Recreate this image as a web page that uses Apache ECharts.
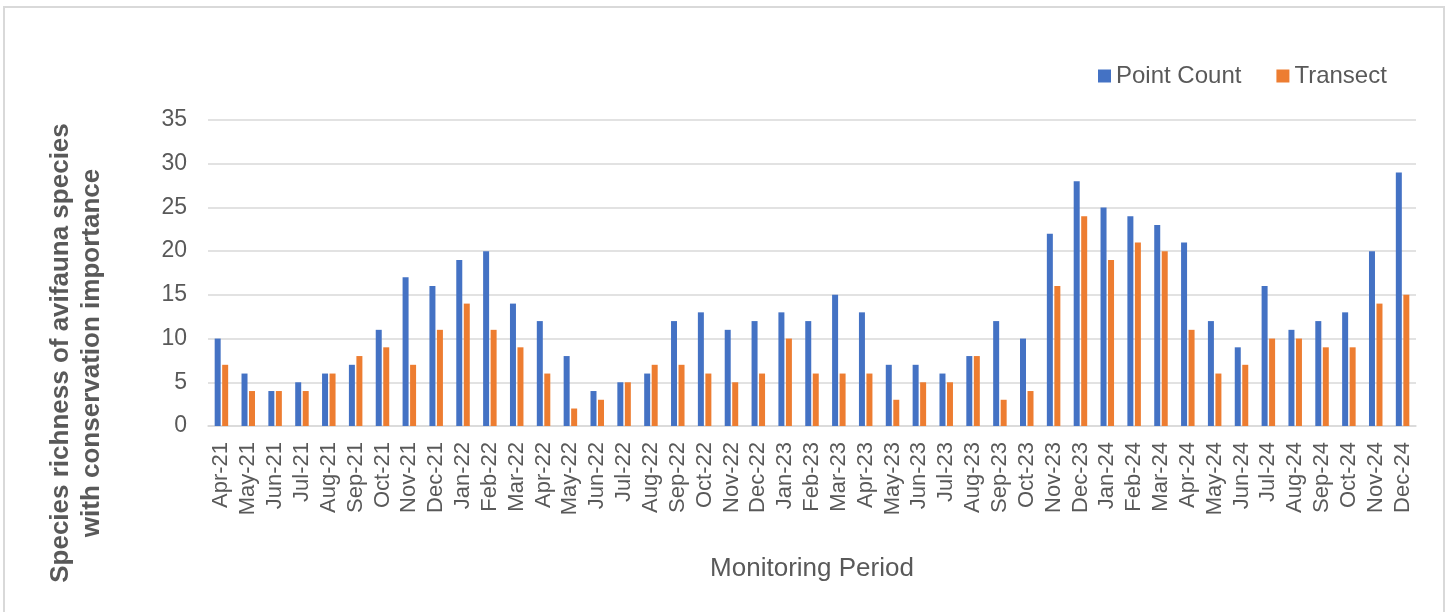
<!DOCTYPE html>
<html>
<head>
<meta charset="utf-8">
<script src="https://cdn.jsdelivr.net/npm/echarts@6/dist/echarts.min.js"></script>
<style>
  html, body { margin: 0; padding: 0; background: #fff; }
  #frame { position: absolute; left: 3px; top: 6px; width: 1442px; height: 640px; border: 2px solid #d9d9d9; box-sizing: border-box; }
  #chart { position: absolute; left: 0; top: 0; width: 1451px; height: 612px; }
</style>
</head>
<body>
<div id="frame"></div>
<div id="chart"></div>
<script>
// monitoring months
const months = [
  'Apr-21', 'May-21', 'Jun-21', 'Jul-21', 'Aug-21', 'Sep-21', 'Oct-21', 'Nov-21', 'Dec-21',
  'Jan-22', 'Feb-22', 'Mar-22', 'Apr-22', 'May-22', 'Jun-22', 'Jul-22', 'Aug-22', 'Sep-22', 'Oct-22', 'Nov-22', 'Dec-22',
  'Jan-23', 'Feb-23', 'Mar-23', 'Apr-23', 'May-23', 'Jun-23', 'Jul-23', 'Aug-23', 'Sep-23', 'Oct-23', 'Nov-23', 'Dec-23',
  'Jan-24', 'Feb-24', 'Mar-24', 'Apr-24', 'May-24', 'Jun-24', 'Jul-24', 'Aug-24', 'Sep-24', 'Oct-24', 'Nov-24', 'Dec-24'
]
const pointCount = [
  10, 6, 4, 5, 6, 7, 11, 17, 16,
  19, 20, 14, 12, 8, 4, 5, 6, 12, 13, 11, 12,
  13, 12, 15, 13, 7, 7, 6, 8, 12, 10, 22, 28,
  25, 24, 23, 21, 12, 9, 16, 11, 12, 13, 20, 29
]
const transect = [
  7, 4, 4, 4, 6, 8, 9, 7, 11,
  14, 11, 9, 6, 2, 3, 5, 7, 7, 6, 5, 6,
  10, 6, 6, 6, 3, 5, 5, 8, 3, 4, 16, 24,
  19, 21, 20, 11, 6, 7, 10, 10, 9, 9, 14, 15
]
const yTicks = [0, 5, 10, 15, 20, 25, 30, 35]

const font = '"Liberation Sans", Arial, sans-serif'
const textColor = '#595959'

const chart = echarts.init(document.getElementById('chart'))
chart.setOption({
  animation: false,
  textStyle: { fontFamily: font },
  grid: { left: 208, right: 35, top: 120, bottom: 186 },
  legend: {
    left: 1093, top: 59,
    itemWidth: 13, itemHeight: 13, itemGap: 35,
    icon: 'rect',
    textStyle: { fontSize: 24, color: textColor, fontFamily: font },
    data: ['Point Count', 'Transect']
  },
  graphic: [{
    type: 'text',
    x: 76, y: 353,
    rotation: Math.PI / 2,
    style: {
      text: 'Species richness of avifauna species\nwith conservation importance',
      font: 'bold 26px ' + font,
      fill: textColor,
      align: 'center',
      verticalAlign: 'middle',
      lineHeight: 31
    }
  }],
  xAxis: {
    type: 'category',
    data: months,
    name: 'Monitoring Period',
    nameLocation: 'middle',
    nameGap: 130,
    nameTextStyle: { fontSize: 26, color: textColor },
    axisLine: { lineStyle: { color: '#d9d9d9', width: 1.5 } },
    axisTick: { show: false },
    axisLabel: { rotate: 90, interval: 0, fontSize: 22, color: textColor, margin: 16 }
  },
  yAxis: {
    type: 'value',
    min: yTicks[0], max: yTicks[yTicks.length - 1], interval: 5,
    axisLine: { show: false },
    axisTick: { show: false },
    axisLabel: { fontSize: 23, color: textColor, margin: 21 },
    splitLine: { lineStyle: { color: '#d9d9d9', width: 1.5 } }
  },
  series: [
    {
      name: 'Point Count', type: 'bar', data: pointCount,
      barWidth: 6, barGap: '25%',
      itemStyle: { color: '#4472c4' }
    },
    {
      name: 'Transect', type: 'bar', data: transect,
      barWidth: 6,
      itemStyle: { color: '#ed7d31' }
    }
  ]
})
</script>
</body>
</html>
